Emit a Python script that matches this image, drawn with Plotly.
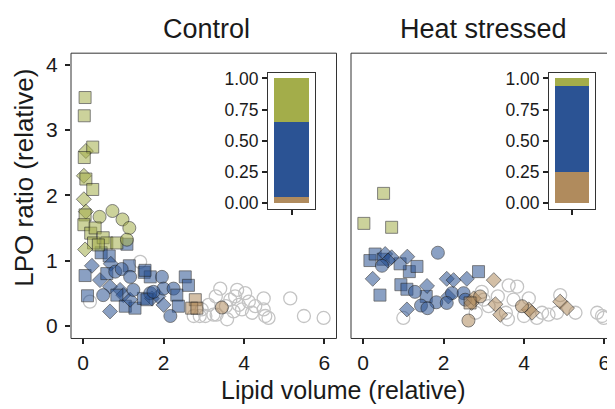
import plotly.graph_objects as go

# ---------------- data ----------------
# Control panel
ctrl_green_x = [0.05, 0.03, 0.07, 0.24, 0.03, 0.02, 0.07, 0.24, 0.02, 0.07, 0.05, 0.41, 0.73, 0.98, 1.15,
                0.02, 0.19, 0.30, 0.26, 0.50, 0.59, 0.84, 1.09, 0.05, 0.38]
ctrl_green_y = [3.50, 3.22, 2.68, 2.74, 2.58, 2.30, 2.25, 2.09, 1.94, 1.75, 1.70, 1.67, 1.76, 1.63, 1.50,
                1.55, 1.42, 1.50, 1.27, 1.35, 1.27, 1.27, 1.32, 1.17, 1.24]
ctrl_green_s = ['s', 's', 'd', 's', 's', 'd', 's', 's', 'd', 'd', 's', 'c', 'c', 'c', 'c',
                's', 's', 's', 's', 's', 's', 's', 'c', 'd', 's']

ctrl_blue_x = [0.05, 0.11, 0.22, 0.42, 0.45, 0.65, 0.69, 1.09, 1.15, 1.52, 0.59, 0.80, 0.96, 1.17, 0.67,
               0.92, 1.00, 0.84, 0.50, 0.67, 1.05, 1.29, 1.17, 1.50, 1.71, 1.87, 1.67, 1.96, 1.67, 2.54,
               2.62, 2.00, 2.25, 2.33, 2.00, 2.37, 2.17, 1.59, 1.75, 1.54, 1.25]
ctrl_blue_y = [0.77, 0.46, 0.92, 0.70, 1.12, 1.07, 0.95, 1.25, 0.92, 0.82, 0.80, 0.83, 0.87, 0.75, 0.60,
               0.55, 0.47, 0.47, 0.47, 0.22, 0.30, 0.27, 0.40, 0.42, 0.42, 0.45, 0.50, 0.75, 0.75, 0.75,
               0.62, 0.57, 0.57, 0.47, 0.32, 0.30, 0.15, 0.40, 0.52, 0.85, 0.55]
ctrl_blue_s = ['s', 's', 'd', 'd', 's', 's', 'd', 's', 's', 's', 's', 'c', 'c', 'c', 'd',
               'd', 'd', 's', 'c', 'd', 's', 's', 'd', 's', 'd', 'd', 'c', 'c', 's', 's',
               's', 'c', 'c', 's', 'd', 's', 'c', 's', 'c', 's', 'c']

ctrl_tan_x = [2.79, 2.70, 2.83, 3.45]
ctrl_tan_y = [0.40, 0.27, 0.27, 0.28]
ctrl_tan_s = ['s', 's', 's', 'c']

ctrl_grey_x = [0.17, 1.42, 2.75, 2.90, 3.04, 3.12, 3.24, 3.32, 3.41, 3.58, 3.66, 3.74, 3.83, 3.87, 3.95,
               4.03, 4.12, 4.20, 4.28, 4.49, 4.49, 4.53, 4.61, 5.15, 5.49, 5.98, 3.30, 3.55, 2.95, 3.78]
ctrl_grey_y = [0.37, 0.98, 0.15, 0.15, 0.15, 0.32, 0.17, 0.17, 0.57, 0.10, 0.40, 0.22, 0.55, 0.32, 0.25,
               0.50, 0.37, 0.20, 0.30, 0.42, 0.25, 0.15, 0.12, 0.42, 0.15, 0.12, 0.45, 0.30, 0.25, 0.45]

# Heat stressed panel
heat_green_x = [0.51, 0.02, 0.71]
heat_green_y = [2.03, 1.57, 1.51]
heat_green_s = ['s', 's', 's']

heat_blue_x = [0.17, 0.30, 0.42, 0.94, 1.09, 1.15, 1.34, 0.92, 1.57, 2.87, 0.50,
               0.55, 0.71, 1.10, 0.24, 1.59, 1.09, 2.08, 2.25, 2.58, 2.12, 0.62,
               0.47, 1.86, 1.29, 1.44, 1.82, 1.60, 2.21, 2.50, 2.54, 2.08]
heat_blue_y = [1.00, 1.10, 0.47, 0.63, 0.56, 0.83, 0.91, 0.95, 0.45, 0.83, 1.02,
               1.10, 1.05, 1.06, 0.72, 0.61, 0.25, 0.72, 0.70, 0.72, 0.45, 1.00,
               0.92, 1.12, 0.52, 0.31, 0.36, 0.27, 0.50, 0.50, 0.40, 0.35]
heat_blue_s = ['s', 's', 's', 's', 's', 's', 's', 's', 's', 's', 's',
               'd', 'd', 'd', 'd', 'd', 'd', 'd', 'd', 'd', 'd', 'd',
               'c', 'c', 'c', 'c', 'c', 'c', 'c', 'c', 'c', 'c']

heat_tan_x = [2.70, 3.25, 3.29, 3.41, 4.12, 4.20, 4.90, 5.07, 2.75, 2.91, 2.62, 3.95, 2.66]
heat_tan_y = [0.35, 0.70, 0.33, 0.17, 0.25, 0.20, 0.37, 0.27, 0.42, 0.45, 0.08, 0.30, 0.35]
heat_tan_s = ['d', 'd', 'd', 'd', 'd', 'd', 'd', 'd', 'd', 'c', 'c', 'c', 's']

heat_grey_x = [1.00, 2.95, 3.12, 3.62, 3.83, 3.74, 3.55, 3.60, 4.12, 4.32, 4.45, 4.61, 4.82, 4.90,
               5.28, 5.82, 5.94, 5.98, 3.00, 3.35, 4.00, 2.80]
heat_grey_y = [0.12, 0.52, 0.30, 0.62, 0.60, 0.40, 0.20, 0.10, 0.42, 0.12, 0.20, 0.17, 0.20, 0.47,
               0.20, 0.20, 0.15, 0.12, 0.40, 0.45, 0.15, 0.20]

# Inset stacked proportions (tan, blue, green)
inset_groups = ['tan', 'blue', 'green']
ctrl_props = [0.05, 0.60, 0.35]
heat_props = [0.25, 0.69, 0.06]

x_ticks = [0, 2, 4, 6]
y_ticks = [0, 1, 2, 3, 4]
inset_ticks = [0, 0.25, 0.5, 0.75, 1.0]
inset_tick_text = ['0.00', '0.25', '0.50', '0.75', '1.00']
panel_titles = ['Control', 'Heat stressed']

# ---------------- style ----------------
W, H = 615, 409
OFF = 8  # page body margin of the html page
FONT = 'Liberation Sans, Arial, sans-serif'
base = {'green': (163, 173, 74), 'blue': (43, 83, 148), 'tan': (176, 139, 93)}
sym_map = {'s': 'square', 'c': 'circle', 'd': 'diamond'}
size_map = {'s': 12, 'c': 13, 'd': 11.5}


def rgba(c, a):
    return 'rgba(%d,%d,%d,%.2f)' % (c[0], c[1], c[2], a)


def px(x):
    return (x - OFF) / W


def py(y):
    return (H - (y - OFF)) / H


fig = go.Figure()


def grey_trace(x, y, xa, ya):
    fig.add_trace(go.Scatter(x=x, y=y, mode='markers', xaxis=xa, yaxis=ya, showlegend=False,
                             marker=dict(symbol='circle-open', size=13, color='#c4c4c4',
                                         line=dict(width=1.3, color='#c4c4c4'))))


def col_trace(x, y, s, grp, xa, ya):
    fig.add_trace(go.Scatter(x=x, y=y, mode='markers', xaxis=xa, yaxis=ya, showlegend=False,
                             marker=dict(symbol=[sym_map[k] for k in s],
                                         size=[size_map[k] for k in s],
                                         color=rgba(base[grp], 0.78),
                                         line=dict(width=1, color='rgba(25,25,25,0.75)'))))


grey_trace(ctrl_grey_x, ctrl_grey_y, 'x', 'y')
col_trace(ctrl_blue_x, ctrl_blue_y, ctrl_blue_s, 'blue', 'x', 'y')
col_trace(ctrl_green_x, ctrl_green_y, ctrl_green_s, 'green', 'x', 'y')
col_trace(ctrl_tan_x, ctrl_tan_y, ctrl_tan_s, 'tan', 'x', 'y')

grey_trace(heat_grey_x, heat_grey_y, 'x2', 'y2')
col_trace(heat_blue_x, heat_blue_y, heat_blue_s, 'blue', 'x2', 'y2')
col_trace(heat_green_x, heat_green_y, heat_green_s, 'green', 'x2', 'y2')
col_trace(heat_tan_x, heat_tan_y, heat_tan_s, 'tan', 'x2', 'y2')

for props, xa, ya in [(ctrl_props, 'x3', 'y3'), (heat_props, 'x4', 'y4')]:
    for g, v in zip(inset_groups, props):
        fig.add_trace(go.Bar(x=[0], y=[v], xaxis=xa, yaxis=ya, showlegend=False, width=0.745,
                             marker=dict(color=rgba(base[g], 1), line=dict(width=0))))

tick_font = dict(family=FONT, size=21, color='#1a1a1a')
main_x = dict(range=[-0.3, 6.3], tickvals=x_ticks, ticks='outside', ticklen=5, tickwidth=1.8,
              tickcolor='#222', showgrid=False, zeroline=False, showline=False, tickfont=tick_font)
main_y = dict(range=[-0.195, 4.18], tickvals=y_ticks, ticks='outside', ticklen=5, tickwidth=1.8,
              tickcolor='#222', showgrid=False, zeroline=False, showline=False, tickfont=tick_font,
              ticklabelstandoff=3)

ins_y = dict(range=[-0.047, 1.045], tickvals=inset_ticks, ticktext=inset_tick_text, ticks='outside',
             ticklen=5, tickwidth=1.8, tickcolor='#222', showgrid=False, zeroline=False,
             showline=True, mirror=True, linecolor='#333', linewidth=1,
             tickfont=dict(family=FONT, size=17.5, color='#1a1a1a'))
ins_x = dict(range=[-0.5, 0.5], tickvals=[0], ticktext=[''], ticks='outside', ticklen=5, tickwidth=1.8,
             tickcolor='#222', showgrid=False, zeroline=False, showline=True, mirror=True,
             linecolor='#333', linewidth=1)

ydom = [py(341), py(50)]
fig.update_layout(
    width=W, height=H, margin=dict(l=0, r=0, t=0, b=0),
    paper_bgcolor='white', plot_bgcolor='rgba(0,0,0,0)', barmode='stack',
    xaxis=dict(main_x, domain=[px(71), px(336.5)], anchor='y'),
    yaxis=dict(main_y, domain=ydom, anchor='x'),
    xaxis2=dict(main_x, domain=[px(351), px(616.5)], anchor='y2'),
    yaxis2=dict(main_y, domain=ydom, anchor='x2', showticklabels=False, ticks=''),
    xaxis3=dict(ins_x, domain=[px(268), px(315)], anchor='y3'),
    yaxis3=dict(ins_y, domain=[py(209), py(70)], anchor='x3'),
    xaxis4=dict(ins_x, domain=[px(549), px(595)], anchor='y4'),
    yaxis4=dict(ins_y, domain=[py(209), py(70)], anchor='x4'),
    shapes=[
        dict(type='rect', xref='paper', yref='paper', x0=px(71), x1=px(336.5), y0=ydom[0], y1=ydom[1],
             line=dict(color='#333', width=1)),
        dict(type='rect', xref='paper', yref='paper', x0=px(351), x1=px(616.5), y0=ydom[0], y1=ydom[1],
             line=dict(color='#333', width=1)),
    ],
    annotations=[
        dict(text=panel_titles[0], x=px(206), y=py(25), xref='paper', yref='paper', showarrow=False,
             xanchor='center', yanchor='middle', font=dict(family=FONT, size=27, color='#1a1a1a')),
        dict(text=panel_titles[1], x=px(483.5), y=py(25), xref='paper', yref='paper', showarrow=False,
             xanchor='center', yanchor='middle', font=dict(family=FONT, size=27, color='#1a1a1a')),
        dict(text='Lipid volume (relative)', x=px(343), y=py(394), xref='paper', yref='paper',
             showarrow=False, xanchor='center', yanchor='middle',
             font=dict(family=FONT, size=25, color='#1a1a1a')),
        dict(text='LPO ratio (relative)', x=px(24), y=py(177), xref='paper', yref='paper',
             showarrow=False, xanchor='center', yanchor='middle', textangle=-90,
             font=dict(family=FONT, size=26, color='#1a1a1a')),
    ],
)

fig.write_html('out.html')
